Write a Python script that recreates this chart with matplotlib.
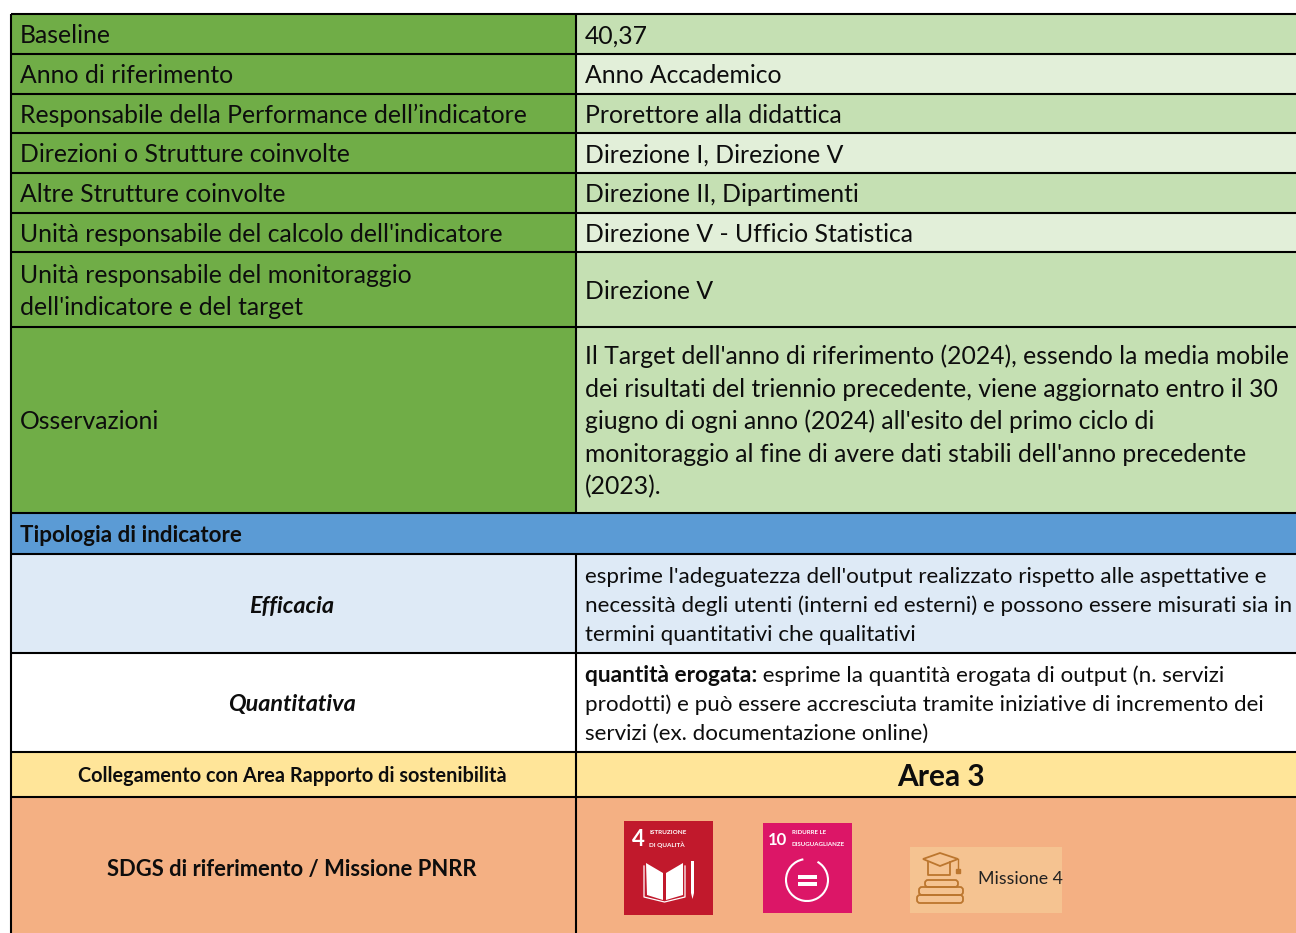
import matplotlib
matplotlib.use("Agg")
import matplotlib.pyplot as plt
from matplotlib.patches import Rectangle, Polygon, Arc, FancyBboxPatch

plt.rcParams["font.family"] = ["Lato", "DejaVu Sans"]

# contenuto della tabella
left_labels = [
    ["Baseline"],
    ["Anno di riferimento"],
    ["Responsabile della Performance dell’indicatore"],
    ["Direzioni o Strutture coinvolte"],
    ["Altre Strutture coinvolte"],
    ["Unità responsabile del calcolo dell'indicatore"],
    ["Unità responsabile del monitoraggio", "dell'indicatore e del target"],
    ["Osservazioni"],
]
right_values = [
    ["40,37"],
    ["Anno Accademico"],
    ["Prorettore alla didattica"],
    ["Direzione I, Direzione V"],
    ["Direzione II, Dipartimenti"],
    ["Direzione V - Ufficio Statistica"],
    ["Direzione V"],
    ["Il Target dell'anno di riferimento (2024), essendo la media mobile",
     "dei risultati del triennio precedente, viene aggiornato entro il 30",
     "giugno di ogni anno (2024) all'esito del primo ciclo di",
     "monitoraggio al fine di avere dati stabili dell'anno precedente",
     "(2023)."],
]
section_title = "Tipologia di indicatore"
efficacia_label = "Efficacia"
efficacia_text = ["esprime l'adeguatezza dell'output realizzato rispetto alle aspettative e",
                  "necessità degli utenti (interni ed esterni) e possono essere misurati sia in",
                  "termini quantitativi che qualitativi"]
quant_label = "Quantitativa"
quant_bold = "quantità erogata:"
quant_text = [" esprime la quantità erogata di output (n. servizi",
              "prodotti) e può essere accresciuta tramite iniziative di incremento dei",
              "servizi (ex. documentazione online)"]
area_label = "Collegamento con Area Rapporto di sostenibilità"
area_value = "Area 3"
sdg_label = "SDGS di riferimento / Missione PNRR"

# geometria in pixel
W, H = 1296, 933
LEFT, SPLIT = 11, 576
rows = [14, 54, 94, 133, 173, 213, 252, 327, 513, 554, 653, 752, 797, H + 5]
right_fill = ["#C5E0B3", "#E2EFD9", "#C5E0B3", "#E2EFD9", "#C5E0B3", "#E2EFD9", "#C5E0B3", "#C5E0B3"]
GREEN = "#70AD47"
TXT = "#0d0d0d"
FS = 17.85
FS_SMALL = 16.1

fig = plt.figure(figsize=(W / 100, H / 100), dpi=100)
ax = fig.add_axes([0, 0, 1, 1])
ax.set_xlim(0, W)
ax.set_ylim(H, 0)
ax.axis("off")


def band(x0, x1, i, color):
    ax.add_patch(Rectangle((x0, rows[i]), x1 - x0, rows[i + 1] - rows[i], fc=color, ec="none", zorder=1))


def lines(x, centre, texts, pitch, size, **kw):
    start = centre - pitch * (len(texts) - 1) / 2
    for k, t in enumerate(texts):
        ax.text(x, start + k * pitch + size * 0.47, t, fontsize=size, color=TXT, va="baseline", zorder=4, **kw)


for i in range(8):
    mid = (rows[i] + rows[i + 1]) / 2 + 1
    band(LEFT, SPLIT, i, GREEN)
    band(SPLIT, W, i, right_fill[i])
    lines(20, mid, left_labels[i], 32, FS)
    lines(585, mid, right_values[i], 32.5, FS)

band(LEFT, W, 8, "#5B9BD5")
ax.text(20, 534 + 7.5, section_title, fontsize=FS_SMALL, fontweight="bold", color=TXT, zorder=4)

band(LEFT, W, 9, "#DEEAF6")
ax.text(292, 605 + 7.5, efficacia_label, fontsize=16.8, fontweight="bold", style="italic",
        ha="center", color=TXT, zorder=4)
lines(585, 604, efficacia_text, 29, FS_SMALL)

band(LEFT, W, 10, "white")
ax.text(292, 703 + 7.5, quant_label, fontsize=16.8, fontweight="bold", style="italic",
        ha="center", color=TXT, zorder=4)
bold = ax.text(585, 674 + 7.5, quant_bold, fontsize=16.4, fontweight="bold", color=TXT, zorder=4)
fig.canvas.draw()
bold_end = bold.get_window_extent().x1
ax.text(bold_end, 674 + 7.5, quant_text[0], fontsize=FS_SMALL, color=TXT, zorder=4)
lines(585, 717.5, quant_text[1:], 29, FS_SMALL)

band(LEFT, W, 11, "#FFE599")
ax.text(292, 775 + 6.5, area_label, fontsize=14.3, fontweight="bold", ha="center", color=TXT, zorder=4)
ax.text(941, 776 + 10, area_value, fontsize=21.5, fontweight="bold", ha="center", color=TXT, zorder=4)

band(LEFT, W, 12, "#F4B083")
ax.text(292, 868 + 8, sdg_label, fontsize=15.8, fontweight="bold", ha="center", color=TXT, zorder=4)

# griglia
LW = 1.5
ax.hlines(rows[:-1], LEFT, W, color="black", lw=LW, zorder=5)
ax.vlines(LEFT, rows[0], H, color="black", lw=LW, zorder=5)
ax.vlines(SPLIT, rows[0], rows[8], color="black", lw=LW, zorder=5)
ax.vlines(SPLIT, rows[9], H, color="black", lw=LW, zorder=5)

# icona SDG 4
ax.add_patch(Rectangle((624, 821), 89, 94, fc="#C1192C", ec="none", zorder=6))
ax.text(638, 839, "4", fontsize=16, fontweight="bold", color="white", ha="center", va="center", zorder=7)
ax.text(649, 833, "ISTRUZIONE", fontsize=4.6, fontweight="bold", color="white", va="center", zorder=7)
ax.text(649, 845, "DI QUALITÀ", fontsize=4.6, fontweight="bold", color="white", va="center", zorder=7)
ax.add_patch(Polygon([(646, 863), (663, 873), (663, 900), (647, 895)], fc="white", ec="none", zorder=7))
ax.add_patch(Polygon([(666, 873), (683, 863), (683, 895), (666, 900)], fc="white", ec="none", zorder=7))
ax.plot([644, 644, 664.5, 685, 685], [866, 897, 902, 897, 866], color="white", lw=0.9, zorder=7)
ax.add_patch(Polygon([(691, 861), (694, 861), (694, 893), (692.5, 899), (691, 893)], fc="white", ec="none", zorder=7))

# icona SDG 10
ax.add_patch(Rectangle((763, 823), 89, 90, fc="#DC1667", ec="none", zorder=6))
ax.text(777.5, 840, "10", fontsize=12, fontweight="bold", color="white", ha="center", va="center", zorder=7)
ax.text(792, 833, "RIDURRE LE", fontsize=4.4, fontweight="bold", color="white", va="center", zorder=7)
ax.text(792, 845, "DISUGUAGLIANZE", fontsize=4.4, fontweight="bold", color="white", va="center", zorder=7)
ax.add_patch(Arc((807, 880), 42, 42, theta1=-60, theta2=260, color="white", lw=1.5, zorder=7))
ax.add_patch(Rectangle((798, 875), 19, 4, fc="white", ec="none", zorder=7))
ax.add_patch(Rectangle((798, 882), 19, 4, fc="white", ec="none", zorder=7))

# icona Missione 4
BROWN = "#BC762E"
ax.add_patch(Rectangle((910, 847), 152, 66, fc="#F5C391", ec="none", zorder=6))
ax.add_patch(Polygon([(923, 859), (940, 853), (958, 859), (940, 866)], fc="none", ec=BROWN, lw=1.3, zorder=7))
ax.plot([928, 928, 950, 950], [862, 875, 875, 862], color=BROWN, lw=1.3, zorder=7)
ax.plot([958, 958], [859, 869], color=BROWN, lw=1, zorder=7)
ax.add_patch(Rectangle((956, 869), 4, 4, fc=BROWN, ec=BROWN, lw=1, zorder=7))
for x0, y0, w, h in [(925, 880, 33, 7), (919, 887, 44, 8), (917, 895, 46, 8)]:
    ax.add_patch(FancyBboxPatch((x0, y0), w, h, boxstyle="round,pad=0,rounding_size=3",
                                fc="none", ec=BROWN, lw=1.3, zorder=7))
ax.text(978, 879.5, "Missione 4", fontsize=12.8, color="#222222", va="center", zorder=7)

fig.savefig("out.png", dpi=100)
